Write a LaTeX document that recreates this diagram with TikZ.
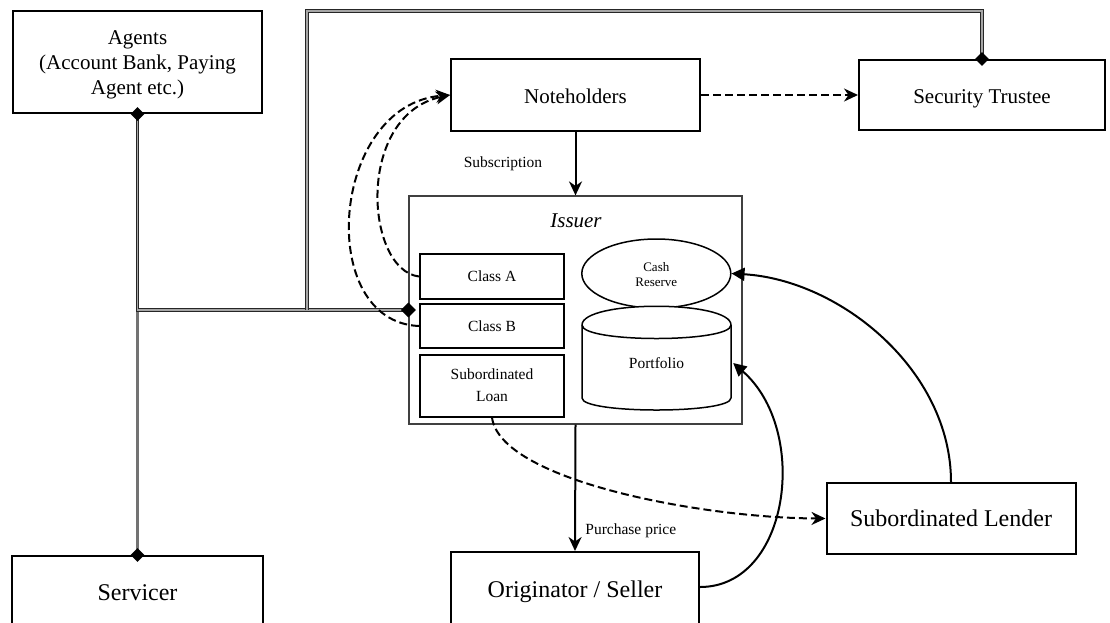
\documentclass[tikz,border=0pt]{standalone}
\usepackage{fontspec}
\setmainfont{Liberation Serif}
\usetikzlibrary{arrows.meta,shapes.geometric}
\tikzset{
  box/.style={draw, line width=2pt, align=center, inner sep=0pt},
  bigtxt/.style={font=\fontsize{21}{25}\selectfont, text height=18pt, text depth=1pt},
  hugetxt/.style={font=\fontsize{24}{28}\selectfont, text height=17pt, text depth=1.2pt},
  smalltxt/.style={font=\fontsize{15.5}{22}\selectfont},
  tinytxt/.style={font=\fontsize{13}{15}\selectfont},
  link/.style={draw=black!85, double=black!35, line width=1pt, double distance=1.2pt},
  servline/.style={draw=black!55, line width=2.8pt},
  dia/.style={diamond, fill=black, inner sep=0pt, minimum width=14pt, minimum height=14pt},
  flow/.style={line width=2pt, -{Stealth[length=14pt,width=13pt,inset=4.5pt]}},
  dflow/.style={flow, dash pattern=on 8pt off 4pt},
  feed/.style={line width=2pt, -{Triangle[length=13pt,width=13pt]}},
}
\begin{document}
\begin{tikzpicture}[x=1pt,y=-1pt]
\clip (0,0) rectangle (1110,622);
\fill[white] (0,0) rectangle (1110,622);

% main boxes
\node[box, font=\fontsize{21}{25}\selectfont, minimum width=249pt, minimum height=102pt] (agents) at (137.5,62) {\rule{0pt}{20.5pt}Agents\\(Account Bank, Paying\\Agent etc.)};
\node[box, bigtxt, minimum width=249pt, minimum height=72pt] (noteholders) at (575.5,95) {Noteholders};
\node[box, bigtxt, minimum width=246pt, minimum height=70pt] (trustee) at (982,95) {Security Trustee};
\node[draw=black!75, line width=1.2pt, minimum width=333pt, minimum height=228pt, inner sep=0pt] (issuer) at (575.5,310) {};
\node[font=\fontsize{21}{25}\selectfont\itshape] (issuertitle) at (576,221) {Issuer};
\node[box, smalltxt, minimum width=144pt, minimum height=45pt] (classA) at (492,276.5) {Class A};
\node[box, smalltxt, minimum width=144pt, minimum height=44pt] (classB) at (492,326) {Class B};
\node[box, smalltxt, minimum width=144pt, minimum height=62pt] (subloan) at (492,385.5) {Subordinated\\Loan};
\node[ellipse, draw, line width=1.5pt, tinytxt, align=center, inner sep=0pt, minimum width=149pt, minimum height=69pt] (cash) at (656.3,273.5) {\rule{0pt}{11pt}Cash\\Reserve};
\node[minimum width=149pt, minimum height=104pt, inner sep=0pt] (portfolio) at (656.5,358) {};

% cylinder outline of the portfolio
\draw[line width=1.5pt, fill=white]
  (582,325) .. controls (582,300) and (731,300) .. (731,325)
  -- (731,398) .. controls (731,414) and (582,414) .. (582,398) -- cycle;
\draw[line width=1.5pt] (582,325) .. controls (582,343) and (731,343) .. (731,325);
\node[smalltxt] (portfoliotext) at (656.5,363) {Portfolio};

\node[box, hugetxt, minimum width=249pt, minimum height=71pt] (sublender) at (951,518.5) {Subordinated Lender};
\node[box, hugetxt, minimum width=248pt, minimum height=76pt] (originator) at (575,590) {Originator / Seller};
\node[box, hugetxt, minimum width=251pt, minimum height=74pt] (servicer) at (137.5,593) {Servicer};

% agent / servicer / trustee links
\coordinate (j1) at (137.5,310);
\coordinate (j2) at (307,310);
\coordinate (t1) at (307,11);
\draw[servline] (j1) -- (servicer.north);
\draw[link] (agents.south) -- (j1) -- (issuer.west);
\draw[link] (j2) -- (t1) -| (trustee.north);
\node[dia] (d1) at (agents.south) {};
\node[dia] (d2) at (servicer.north) {};
\node[dia] (d3) at (trustee.north) {};
\node[dia, minimum width=15pt, minimum height=15pt] (d4) at (issuer.west) {};

% flows
\draw[flow] (noteholders.south) -- (issuer.north)
  node[pos=0.5, left=29pt, smalltxt] (sublabel) {Subscription};
\draw[flow] (issuer.south) -- (originator.north)
  node[pos=0.84, right=6pt, smalltxt] (pplabel) {Purchase price};
\draw[dflow] (noteholders.east) -- (trustee.west);
\draw[dflow] (classA.west) .. controls (365,270) and (355,115) .. (noteholders.west);
\draw[dflow] (classB.west) .. controls (315,322) and (330,105) .. (noteholders.west);
\draw[dflow] (subloan.south) .. controls (500,480) and (700,518) .. (sublender.west);
\draw[feed] ([yshift=3pt]originator.east) .. controls (790,587) and (810,430) .. ([xshift=2pt,yshift=-5pt]portfolio.east);
\draw[feed] (sublender.north) .. controls (951,370) and (840,280) .. (cash.east);
\end{tikzpicture}
\end{document}
